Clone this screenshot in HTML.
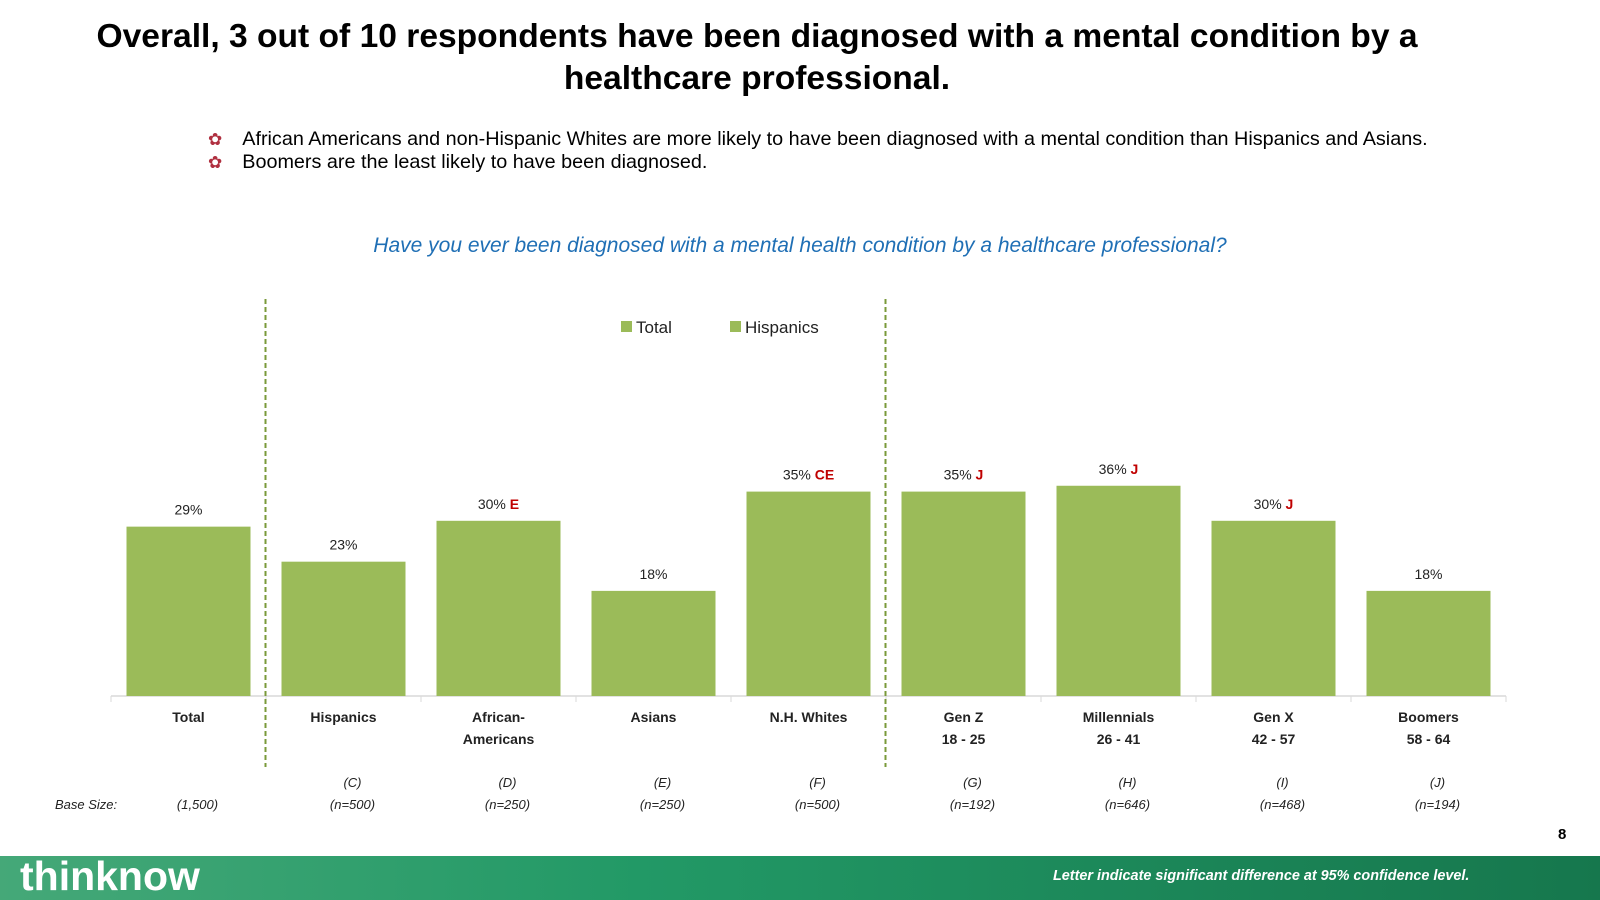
<!DOCTYPE html>
<html><head><meta charset="utf-8"><style>
body{margin:0;width:1600px;height:900px;position:relative;background:#fff;font-family:"Liberation Sans",sans-serif;overflow:hidden}
.t{position:absolute;white-space:nowrap}
</style></head><body>
<div class="t" style="left:0;width:1514px;top:16px;text-align:center;font-weight:bold;font-size:33.6px;line-height:42px;color:#000">Overall, 3 out of 10 respondents have been diagnosed with a mental condition by a<br>healthcare professional.</div>
<div class="t" style="left:208px;top:128px;font-size:19.8px"><span style="color:#b03040;margin-right:20px;font-size:17px">✿</span>African Americans and non-Hispanic Whites are more likely to have been diagnosed with a mental condition than Hispanics and Asians.</div>
<div class="t" style="left:208px;top:151px;font-size:19.8px"><span style="color:#b03040;margin-right:20px;font-size:17px">✿</span>Boomers are the least likely to have been diagnosed.</div>
<div class="t" style="left:0;width:1600px;top:234px;text-align:center;font-style:italic;font-size:21px;color:#1f6fb5">Have you ever been diagnosed with a mental health condition by a healthcare professional?</div>
<svg id="c" width="1600" height="900" style="position:absolute;left:0;top:0"></svg>
<div style="position:absolute;left:0;top:856px;width:1600px;height:44px;background:linear-gradient(90deg,#45a878,#229966 40%,#16774d)"></div>
<div class="t" style="left:20px;top:855px;color:#fff;font-weight:bold;font-size:41px;line-height:42px">thinknow</div>
<div class="t" style="left:1053px;top:868px;color:#fff;font-weight:bold;font-style:italic;font-size:14.4px">Letter indicate significant difference at 95% confidence level.</div>
<div class="t" style="left:1558px;top:826px;font-weight:bold;font-size:15px">8</div>
<script>
const categories=["Total","Hispanics","African-|Americans","Asians","N.H. Whites","Gen Z|18 - 25","Millennials|26 - 41","Gen X|42 - 57","Boomers|58 - 64"];
const values=[29,23,30,18,35,35,36,30,18];
const sigLetters=["","","E","","CE","J","J","J",""];
const groupLetters=["","(C)","(D)","(E)","(F)","(G)","(H)","(I)","(J)"];
const baseSizes=["(1,500)","(n=500)","(n=250)","(n=250)","(n=500)","(n=192)","(n=646)","(n=468)","(n=194)"];
const svg=document.getElementById('c');const NS='http://www.w3.org/2000/svg';
function mk(tag,a,txt){const e=document.createElementNS(NS,tag);for(const k in a)e.setAttribute(k,a[k]);if(txt!==undefined)e.textContent=txt;svg.appendChild(e);return e;}
const x0=111,pitch=155,baseY=696,ppu=5.84,bw=124;
const xc=i=>x0+pitch*(i+0.5);
const y=v=>baseY-v*ppu;
let ax=mk('line',{x1:x0,x2:x0+pitch*9,y1:baseY,y2:baseY,stroke:'#d9d9d9','stroke-width':1.5});

for(let i=0;i<=9;i++){mk('line',{x1:x0+pitch*i,x2:x0+pitch*i,y1:baseY,y2:baseY+6,stroke:'#d9d9d9'});}
[1,5].forEach(i=>{const l=mk('line',{x1:x0+pitch*i-0.5,x2:x0+pitch*i-0.5,y1:299,y2:767,stroke:'#7a9a3a','stroke-width':2,'stroke-dasharray':'5,3'});

});
values.forEach((v,i)=>{
const r=mk('rect',{x:xc(i)-bw/2,y:y(v),width:bw,height:v*ppu,fill:'#9bbb59'});


const t=mk('text',{x:xc(i),y:y(v)-12,'text-anchor':'middle','font-size':14,fill:'#222'});
const s1=document.createElementNS(NS,'tspan');s1.textContent=v+'%';t.appendChild(s1);
if(sigLetters[i]){const s2=document.createElementNS(NS,'tspan');s2.setAttribute('fill','#c00000');s2.setAttribute('font-weight','bold');s2.textContent=' '+sigLetters[i];t.appendChild(s2);}


categories[i].split('|').forEach((ln,k)=>{const c=mk('text',{x:xc(i),y:722+k*22,'text-anchor':'middle','font-size':14,'font-weight':'bold',fill:'#222'},ln);

});
const g=mk('text',{x:xc(i)+9,y:787,'text-anchor':'middle','font-size':13,'font-style':'italic',fill:'#222'},groupLetters[i]);


const b=mk('text',{x:xc(i)+9,y:809,'text-anchor':'middle','font-size':13,'font-style':'italic',fill:'#222'},baseSizes[i]);


});
const bl=mk('text',{x:55,y:809,'font-size':13,'font-style':'italic',fill:'#222'},'Base Size:');

[[621,'Total'],[730,'Hispanics']].forEach(([x,n])=>{
const r=mk('rect',{x:x,y:321,width:11,height:11,fill:'#9bbb59'});


const t=mk('text',{x:x+15,y:333,'font-size':17,fill:'#222'},n);

});
</script>
</body></html>
